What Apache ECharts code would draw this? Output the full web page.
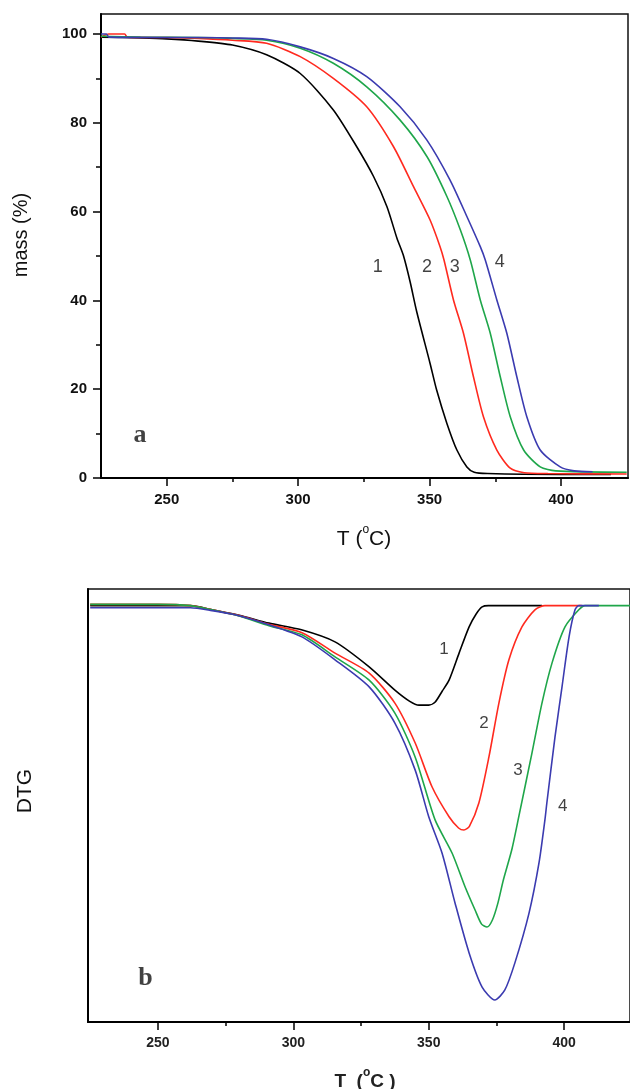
<!DOCTYPE html>
<html>
<head>
<meta charset="utf-8">
<script src="https://cdn.jsdelivr.net/npm/echarts@6/dist/echarts.min.js"></script>
<style>html,body{margin:0;padding:0;background:#fff}#c{width:630px;height:1089px}</style>
</head>
<body>
<div id="c"></div>
<script>
// ---------- TG (panel a) ----------
var tgT1 = [225,240,250,262,275,288,300.8,313.4,322.3,328.7,333.8,337.6,340,342.6,345.1,350.2,352.7,356.6,360.4,364.2,367,372,400,419];
var tgM1 = [99.3,99.1,98.9,98.4,97.5,95.3,91.1,82.9,74.6,67.9,61.1,54,50.2,44.2,37.5,25.8,19.8,12.3,6.3,2.5,1.3,1.0,0.8,0.8];
var tgT2 = [225,228,234,235,250,262,275,288,300.8,313.4,326.1,336.3,343.9,350.2,354,355.5,359.1,362.9,366.7,370.5,375.6,380.7,386,395,425];
var tgM2 = [99.3,100,100,99.3,99.2,99.0,98.6,97.9,94.9,90.0,83.6,74.6,65.6,58.1,52.1,49.1,40.1,32.6,22.8,13.8,6.3,2.2,1.2,1.0,0.9];
var tgT3 = [225,240,262,275,288,300.8,313.4,326.1,338.8,349,356.6,361.7,365.5,369.3,373.1,376.9,380.7,385.8,392.1,398,425];
var tgM3 = [99.5,99.3,99.2,99.0,98.6,96.8,93.4,88.1,80.6,72.4,63.4,55.9,49.1,40.1,32.6,22.8,13.8,6.3,2.5,1.6,1.3];
var tgT4 = [225,227,228,262,275,288,300.8,313.4,326.1,338.8,349,357.8,364.2,369.3,371.2,375.6,379.4,383.2,387,392.1,399.7,405,412];
var tgM4 = [100,100,99.3,99.2,99.1,98.8,97.1,94.5,90.4,83.6,76.1,67.1,58.9,52.1,49.1,40.1,32.6,22.8,13.8,6.3,2.5,1.6,1.4];
var tgLabelT = [330.3,349,359.6,376.7];
var tgLabelM = [47.5,47.5,47.5,48.6];
var tgLabelText = ['1','2','3','4'];
var tgXTicks = [250,300,350,400];
var tgXMinor = [275,325,375];
var tgYTicks = [0,20,40,60,80,100];
var tgYMinor = [10,30,50,70,90];

// ---------- DTG (panel b) ----------
var dtT1 = [225,250,262,270,280,291,303,315.4,328,337.5,343,346.4,350,352.3,355,357.5,361.2,364.9,367.5,369.7,372,391.8];
var dtV1 = [0,0,0,-1,-2.3,-4.2,-5.8,-8.7,-14.7,-20.3,-23,-23.9,-23.9,-23.2,-20.5,-17.9,-11.4,-5.1,-2,-0.3,0,0];
var dtT2 = [225,250,262,270,280,291,303.2,315.4,328,337.5,345,351.2,357.5,361,363,365,368.5,372.2,375.9,379.6,384.4,389.2,392.9,406.5];
var dtV2 = [0.3,0.3,0,-1,-2.4,-4.5,-6.5,-11.4,-16.2,-23.4,-33,-43.5,-50.7,-53.4,-53.9,-53,-47.4,-36.4,-23.4,-13,-5.1,-1,0,0];
var dtT3 = [225,250,262,270,280,291,303.2,315.4,328,337.5,345,352.3,358.6,363.4,367.1,369.5,371.5,373.5,375.5,377.5,380.7,383.3,388.1,391.8,395.5,400.3,405.4,407.7,425];
var dtV3 = [0.3,0.3,0,-1,-2.5,-4.8,-7,-12.3,-17.9,-25.8,-36.4,-51.4,-59.4,-67.5,-73.1,-76.5,-77.2,-75.5,-71.5,-66,-58.5,-50.5,-35.4,-23.4,-13.8,-5.1,-1,0,0];
var dtT4 = [225,262,270,278.5,291,303.2,315.4,328,337.5,345,350,354.9,359.7,364.9,369.7,374.4,378.1,381.8,387,390.7,392.9,393.6,396.6,399.2,401.8,404,405.4,412.8];
var dtV4 = [-0.5,-0.5,-1.2,-2.2,-4.6,-7.5,-13,-19.5,-28.2,-39.5,-50.7,-59.4,-71.4,-83.4,-91.6,-94.7,-92.3,-85.8,-73.9,-61.8,-51.4,-47.4,-31.6,-19.5,-7.5,-1,0,0];
var dtLabelT = [355.6,370.4,382.9,399.5];
var dtLabelV = [-10.4,-28.2,-39.5,-48.1];
var dtLabelText = ['1','2','3','4'];
var dtXTicks = [250,300,350,400];
var dtXMinor = [275,325,375];

var colors = ['#000000','#ff2a1f','#1fa64a','#3b3bb0'];

function pairs(xs, ys){ var out=[]; for(var i=0;i<xs.length;i++) out.push([xs[i],ys[i]]); return out; }
function lbl(xs, ys, ts){ var out=[]; for(var i=0;i<xs.length;i++) out.push({value:[xs[i],ys[i]], name:ts[i]}); return out; }

var font = "'Liberation Sans', Arial, sans-serif";
var serif = "'Liberation Serif', 'Times New Roman', serif";
var chart = echarts.init(document.getElementById('c'), null, {renderer:'canvas'});

function lineSeries(x, y, data, color){
  return {type:'line', xAxisIndex:x, yAxisIndex:y, data:data, showSymbol:false, symbol:'none',
    smooth:0.25,
    lineStyle:{color:color, width:1.6}, itemStyle:{color:color}, animation:false, z:3};
}

var series = [];
var tgT=[tgT1,tgT2,tgT3,tgT4], tgM=[tgM1,tgM2,tgM3,tgM4];
var dtT=[dtT1,dtT2,dtT3,dtT4], dtV=[dtV1,dtV2,dtV3,dtV4];
for (var k=0;k<4;k++) series.push(lineSeries(0,0,pairs(tgT[k],tgM[k]),colors[k]));
for (var k=0;k<4;k++) series.push(lineSeries(2,2,pairs(dtT[k],dtV[k]),colors[k]));
series.push({type:'scatter', xAxisIndex:0, yAxisIndex:0, symbolSize:0, data:lbl(tgLabelT,tgLabelM,tgLabelText),
  label:{show:true, position:'inside', formatter:'{b}', color:'#111', fontSize:18, fontFamily:font}, animation:false, z:5});
series.push({type:'scatter', xAxisIndex:0, yAxisIndex:0, symbolSize:0, data:[{value:[239.8,9.7],name:'a'}],
  label:{show:true, position:'inside', formatter:'{b}', color:'#111', fontSize:26, fontWeight:'bold', fontFamily:serif}, animation:false, z:5});
series.push({type:'scatter', xAxisIndex:2, yAxisIndex:2, symbolSize:0, data:lbl(dtLabelT,dtLabelV,dtLabelText),
  label:{show:true, position:'inside', formatter:'{b}', color:'#111', fontSize:17, fontFamily:font}, animation:false, z:5});
series.push({type:'scatter', xAxisIndex:2, yAxisIndex:2, symbolSize:0, data:[{value:[245.4,-89.6],name:'b'}],
  label:{show:true, position:'inside', formatter:'{b}', color:'#111', fontSize:26, fontWeight:'bold', fontFamily:serif}, animation:false, z:5});

var axLine = {show:true, onZero:false, lineStyle:{color:'#000', width:2}};
var noLine = {show:false, onZero:false};
var option = {
  animation:false,
  backgroundColor:'#fff',
  grid:[
    {left:101, top:14, width:527, height:464, show:true, borderColor:'#111', borderWidth:1.5, backgroundColor:'transparent'},
    {left:88, top:589, width:543, height:433, show:true, borderColor:'#111', borderWidth:1.5, backgroundColor:'transparent'}
  ],
  xAxis:[
    {type:'value', gridIndex:0, position:'bottom', min:225, max:425.5, axisLine:axLine, splitLine:{show:false},
     axisTick:{show:true, inside:false, length:8, lineStyle:{color:'#000', width:1.5}, customValues:tgXTicks},
     axisLabel:{show:true, margin:14, color:'#111', fontSize:15, fontWeight:'bold', fontFamily:font, customValues:tgXTicks}},
    {type:'value', gridIndex:0, position:'bottom', min:225, max:425.5, axisLine:noLine, splitLine:{show:false},
     axisTick:{show:true, length:4, lineStyle:{color:'#000', width:1.5}, customValues:tgXMinor},
     axisLabel:{show:false}},
    {type:'value', gridIndex:1, position:'bottom', min:224.2, max:424.3, axisLine:axLine, splitLine:{show:false},
     axisTick:{show:true, length:8, lineStyle:{color:'#000', width:1.5}, customValues:dtXTicks},
     axisLabel:{show:true, margin:14, color:'#222', fontSize:14, fontWeight:'bold', fontFamily:font, customValues:dtXTicks}},
    {type:'value', gridIndex:1, position:'bottom', min:224.2, max:424.3, axisLine:noLine, splitLine:{show:false},
     axisTick:{show:true, length:4, lineStyle:{color:'#000', width:1.5}, customValues:dtXMinor},
     axisLabel:{show:false}}
  ],
  yAxis:[
    {type:'value', gridIndex:0, position:'left', min:0, max:104.5, axisLine:axLine, splitLine:{show:false},
     axisTick:{show:true, length:8, lineStyle:{color:'#000', width:1.5}, customValues:tgYTicks},
     axisLabel:{show:true, margin:14, color:'#111', fontSize:15, fontWeight:'bold', fontFamily:font, customValues:tgYTicks}},
    {type:'value', gridIndex:0, position:'left', min:0, max:104.5, axisLine:noLine, splitLine:{show:false},
     axisTick:{show:true, length:5, lineStyle:{color:'#000', width:1.5}, customValues:tgYMinor},
     axisLabel:{show:false}},
    {type:'value', gridIndex:1, position:'left', min:-100, max:4, axisLine:axLine, splitLine:{show:false},
     axisTick:{show:false}, axisLabel:{show:false}}
  ],
  graphic:[
    {type:'text', x:21, y:235, rotation:Math.PI/2, style:{text:'mass (%)', fill:'#111', font:"20px 'Liberation Sans', Arial", align:'center', verticalAlign:'middle'}},
    {type:'text', x:364, y:537, style:{text:'{n|T (}{s|o}{n|C)}', align:'center', verticalAlign:'middle', fill:'#111',
      rich:{n:{fontSize:21, fontFamily:font, lineHeight:26, verticalAlign:'bottom'}, s:{fontSize:12, fontFamily:font, lineHeight:26, verticalAlign:'top'}}}},
    {type:'text', x:25, y:791, rotation:Math.PI/2, style:{text:'DTG', fill:'#111', font:"21px 'Liberation Sans', Arial", align:'center', verticalAlign:'middle'}},
    {type:'text', x:365, y:1079, style:{text:'{n|T  (}{s|o}{n|C )}', align:'center', verticalAlign:'middle', fill:'#222',
      rich:{n:{fontSize:19, fontWeight:'bold', fontFamily:font, lineHeight:24, verticalAlign:'bottom'}, s:{fontSize:12, fontWeight:'bold', fontFamily:font, lineHeight:24, verticalAlign:'top'}}}}
  ],
  series:series
};
chart.setOption(option);
</script>
</body>
</html>
